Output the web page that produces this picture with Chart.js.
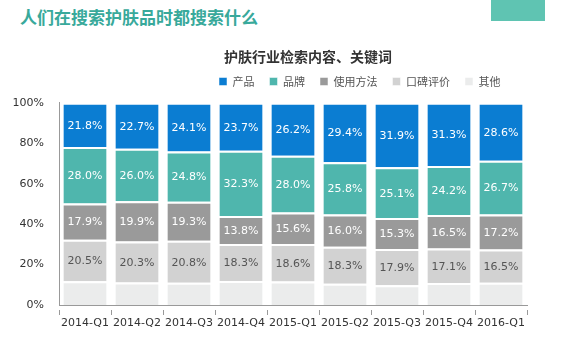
<!DOCTYPE html>
<html>
<head>
<meta charset="utf-8">
<script src="https://cdn.jsdelivr.net/npm/chart.js@4/dist/chart.umd.min.js"></script>
<style>
  body { margin: 0; background: #fff; }
  .page { position: relative; width: 570px; height: 360px; overflow: hidden; }
  .heading {
    position: absolute; left: 20px; top: 4px;
    font: bold 17px "Noto Sans CJK SC", sans-serif; color: #38a99b;
  }
  .badge { position: absolute; left: 491px; top: 0; width: 54px; height: 21px; background: #5fc4b2; }
  .chart-box { position: absolute; left: 0; top: 0; width: 570px; height: 360px; }
</style>
</head>
<body>
<div class="page">
  <div class="heading">人们在搜索护肤品时都搜索什么</div>
  <div class="badge"></div>
  <div class="chart-box"><canvas id="chart"></canvas></div>
</div>
<script>
// quarters on the x axis
const categories = ["2014-Q1", "2014-Q2", "2014-Q3", "2014-Q4", "2015-Q1", "2015-Q2", "2015-Q3", "2015-Q4", "2016-Q1"];

// share of searches (%), one array per segment
const product = [21.8, 22.7, 24.1, 23.7, 26.2, 29.4, 31.9, 31.3, 28.6];
const brand = [28.0, 26.0, 24.8, 32.3, 28.0, 25.8, 25.1, 24.2, 26.7];
const usage = [17.9, 19.9, 19.3, 13.8, 15.6, 16.0, 15.3, 16.5, 17.2];
const reviews = [20.5, 20.3, 20.8, 18.3, 18.6, 18.3, 17.9, 17.1, 16.5];
const other = [11.8, 11.1, 11.0, 11.9, 11.6, 10.5, 9.8, 10.9, 11.0];

const yTicks = [0, 20, 40, 60, 80, 100];

Chart.defaults.font.family = "'DejaVu Sans', 'Noto Sans CJK SC', sans-serif";

// draws the % labels in the middle of each segment
const segmentLabels = {
  id: "segmentLabels",
  afterDatasetsDraw(chart) {
    const ctx = chart.ctx;
    ctx.save();
    ctx.font = "11px 'DejaVu Sans', sans-serif";
    ctx.textAlign = "center";
    ctx.textBaseline = "middle";
    chart.data.datasets.forEach((ds, i) => {
      if (!ds.labelColor) return;
      const meta = chart.getDatasetMeta(i);
      meta.data.forEach((bar, j) => {
        ctx.fillStyle = ds.labelColor;
        ctx.fillText(ds.data[j].toFixed(1) + "%", bar.x, (bar.y + bar.base) / 2 + 1);
      });
    });
    ctx.restore();
  },
};

// move title and legend where they sit in the original
const placeHeader = {
  id: "placeHeader",
  afterLayout(chart) {
    const t = chart.titleBlock;
    const tw = t.right - t.left;
    t.left = 308 - tw / 2;
    t.right = t.left + tw;
    t.top = 48;
    t.bottom = t.top + 17;

    const lg = chart.legend;
    const lw = lg.right - lg.left;
    lg.left = 204;
    lg.right = lg.left + lw;
    lg.top = 61;
  },
};

const bar = (label, data, color, labelColor) => ({
  label,
  data,
  backgroundColor: color,
  borderColor: "#fff",
  borderWidth: { top: 2, bottom: 0, left: 0, right: 0 },
  borderSkipped: false,
  labelColor,
});

new Chart(document.getElementById("chart"), {
  type: "bar",
  data: {
    labels: categories,
    // bottom to top
    datasets: [
      bar("其他", other, "#ebecec", null),
      bar("口碑评价", reviews, "#d2d2d2", "#555"),
      bar("使用方法", usage, "#9a9a9a", "#fff"),
      bar("品牌", brand, "#4fb6ad", "#fff"),
      bar("产品", product, "#0b7dd2", "#fff"),
    ],
  },
  options: {
    responsive: true,
    maintainAspectRatio: false,
    animation: false,
    layout: { padding: { top: 50, left: 10, right: 43, bottom: 30 } },
    datasets: { bar: { categoryPercentage: 1, barPercentage: 0.83 } },
    plugins: {
      title: {
        display: true,
        text: "护肤行业检索内容、关键词",
        color: "#333",
        font: { size: 14, weight: "bold", family: "'Noto Sans CJK SC', sans-serif" },
        padding: 0,
      },
      legend: {
        reverse: true,
        align: "start",
        labels: {
          boxWidth: 8,
          boxHeight: 8,
          padding: 15,
          color: "#555",
          font: { size: 11, family: "'Noto Sans CJK SC', sans-serif" },
        },
      },
      tooltip: { enabled: false },
    },
    scales: {
      x: {
        stacked: true,
        afterFit: (s) => { s.height = 25; },
        grid: {
          offset: true,
          drawOnChartArea: false,
          tickLength: 10,
          color: "#999",
          tickBorderDash: [0, 4, 6, 100],
        },
        border: { color: "#999" },
        ticks: { color: "#333", font: { size: 11 }, padding: 2, maxRotation: 0, minRotation: 0, autoSkip: false },
      },
      y: {
        stacked: true,
        min: 0,
        max: 100,
        afterFit: (s) => { s.width = 49; },
        afterBuildTicks: (s) => { s.ticks = yTicks.map((v) => ({ value: v })); },
        grid: { display: false },
        border: { color: "#999" },
        ticks: { color: "#333", font: { size: 11 }, padding: 7, callback: (v) => v + "%" },
      },
    },
  },
  plugins: [segmentLabels, placeHeader],
});
</script>
</body>
</html>
